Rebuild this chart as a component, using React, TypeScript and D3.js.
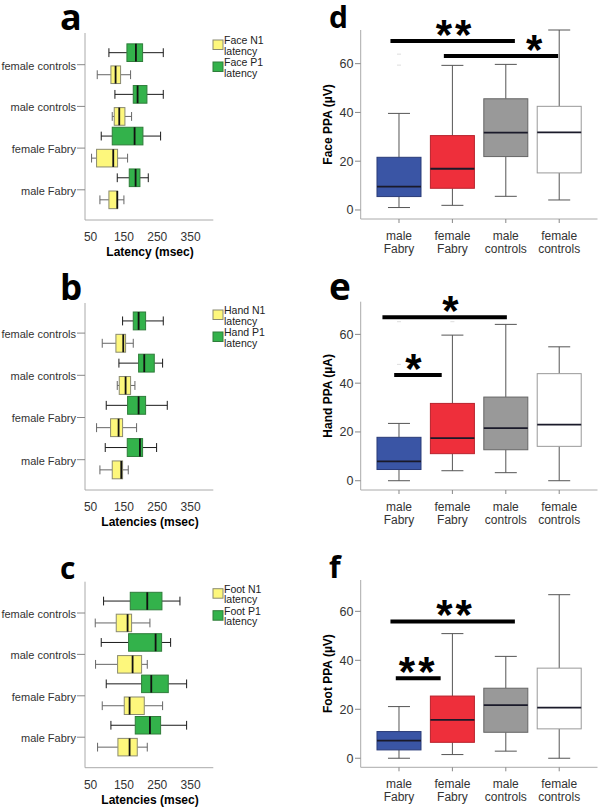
import React from 'react'
import * as d3 from 'd3'

// ---- data: latency panels (a-c), box stats [min, q1, median, q3, max] in msec
const latencyGroups = ['female controls', 'male controls', 'female Fabry', 'male Fabry']
const latencyTicks = [50, 150, 250, 350]

const faceP1 = [[105, 159, 186, 206, 268], [123, 178, 191, 219, 268], [82, 115, 182, 207, 260], [130, 166, 185, 198, 223]]
const faceN1 = [[70, 111, 125, 140, 170], [115, 121, 136, 153, 173], [53, 68, 118, 131, 161], [78, 105, 130, 131, 150]]
const handP1 = [[146, 178, 194, 215, 268], [135, 194, 211, 241, 266], [97, 161, 194, 215, 280], [94, 160, 198, 206, 248]]
const handN1 = [[85, 126, 148, 155, 178], [130, 136, 155, 170, 183], [68, 110, 134, 146, 188], [78, 115, 142, 146, 163]]
const footP1 = [[89, 169, 220, 264, 318], [82, 164, 245, 263, 290], [97, 203, 232, 283, 338], [111, 184, 228, 260, 338]]
const footN1 = [[64, 127, 161, 173, 228], [65, 131, 176, 203, 220], [85, 151, 167, 211, 266], [71, 132, 167, 190, 220]]

// ---- data: PPA panels (d-f), box stats [min, q1, median, q3, max]
const ppaGroups = [['male', 'Fabry'], ['female', 'Fabry'], ['male', 'controls'], ['female', 'controls']]
const ppaTicks = [0, 20, 40, 60]
const facePPA = [[1.0, 5.5, 9.6, 21.6, 39.6], [1.9, 8.9, 16.9, 30.5, 59.3], [5.6, 21.9, 31.7, 45.6, 59.7], [4.1, 15.2, 31.8, 42.5, 73.8]]
const handPPA = [[0, 4.6, 7.9, 17.8, 23.5], [4.1, 11.1, 17.5, 31.7, 59.7], [3.3, 12.7, 21.6, 34.3, 64.1], [0, 14.1, 23, 43.9, 54.9]]
const footPPA = [[0, 3.4, 7.2, 10.9, 21.1], [1.5, 6.5, 15.7, 25.4, 50.9], [2.9, 10.6, 21.7, 28.6, 41.6], [0, 12, 20.7, 36.8, 66.8]]
// outliers: [group index, value]
const faceOutliers = [[0, 63.9], [0, 59.4]]
const handOutliers = [[0, 65.2], [0, 47.7], [1, 65.2]]
const footOutliers: number[][] = []
// significance bars: group positions (fractional index), value, stars
const faceSig = [{ from: -0.16, to: 2.17, y: 69.3, at: 1.05, label: '**' }, { from: 0.84, to: 2.98, y: 63.1, at: 2.56, label: '*' }]
const handSig = [{ from: -0.31, to: 2.02, y: 67, at: 0.99, label: '*' }, { from: -0.09, to: 0.8, y: 43.3, at: 0.3, label: '*' }]
const footSig = [{ from: -0.16, to: 2.17, y: 55.9, at: 1.06, label: '**' }, { from: -0.06, to: 0.78, y: 32.7, at: 0.36, label: '**' }]

const ppaColors = ['#3a55a5', '#ee2f3b', '#999999', '#ffffff']
const ppaStrokes = ['#2a3b78', '#b8222c', '#666666', '#999999']

const FONT = '"Liberation Sans", Arial, sans-serif'
const LETTER_FONT = '"Open Sans", "Liberation Sans", sans-serif'

function LatencyPanel({ top, bottom, band0, step, letter, letterSize, title, legend, p1, n1 }: any) {
  const x = d3.scaleLinear().domain([33.3, 418]).range([85, 213.3])
  const y = d3.scaleBand().domain(latencyGroups).range([band0, band0 + step * 4])
  const inner = d3.scaleBand().domain(['P1', 'N1']).range([-1, step - 3]).paddingInner(0.2)
  const series = [
    { key: 'P1', stats: p1, fill: '#33b24b', stroke: '#2f7d3a', whisker: '#1a1a1a' },
    { key: 'N1', stats: n1, fill: '#fdf77c', stroke: '#8a8a70', whisker: '#666666' },
  ]
  return (
    <g>
      <text x={60} y={top - 3} fontFamily={LETTER_FONT} fontWeight={700} fontSize={letterSize}>{letter}</text>
      <line x1={85} x2={85} y1={top} y2={bottom} stroke="#aaa" />
      <line x1={85} x2={213.3} y1={bottom} y2={bottom} stroke="#aaa" />
      {latencyGroups.map(g => {
        const cy = y(g)! + y.bandwidth() / 2
        return (
          <g key={g}>
            <line x1={77} x2={85} y1={cy - 1} y2={cy - 1} stroke="#888" />
            <text x={76} y={cy} dy="0.35em" textAnchor="end" fontFamily={FONT} fontSize={11} fill="#333">{g}</text>
          </g>
        )
      })}
      {latencyTicks.map(t => (
        <text key={t} x={x(t)} y={bottom + 21} textAnchor="middle" fontFamily={FONT} fontSize={12} fill="#333">{t}</text>
      ))}
      <text x={150} y={bottom + 36} textAnchor="middle" fontFamily={FONT} fontWeight={700} fontSize={12}>{title}</text>
      {series.map(s => latencyGroups.map((g, i) => {
        const [mn, q1, md, q3, mx] = s.stats[i]
        const y0 = y(g)! + inner(s.key)!
        const h = inner.bandwidth()
        const cy = y0 + h / 2
        return (
          <g key={s.key + g}>
            <line x1={x(mn)} x2={x(q1)} y1={cy} y2={cy} stroke={s.whisker} />
            <line x1={x(q3)} x2={x(mx)} y1={cy} y2={cy} stroke={s.whisker} />
            <line x1={x(mn)} x2={x(mn)} y1={cy - h * 0.25} y2={cy + h * 0.25} stroke={s.whisker} />
            <line x1={x(mx)} x2={x(mx)} y1={cy - h * 0.25} y2={cy + h * 0.25} stroke={s.whisker} />
            <rect x={x(q1)} y={y0} width={x(q3) - x(q1)} height={h} fill={s.fill} stroke={s.stroke} />
            <line x1={x(md)} x2={x(md)} y1={y0} y2={y0 + h} stroke="#111" strokeWidth={1.8} />
          </g>
        )
      }))}
      {legend.map((l: string, i: number) => (
        <g key={l} transform={`translate(213,${top + 7 + i * 22})`}>
          <rect x={0} y={0} width={10} height={9.5} fill={i === 0 ? '#fdf77c' : '#33b24b'} stroke={i === 0 ? '#8a8a70' : '#2f7d3a'} />
          <text x={11} y={4} fontFamily={FONT} fontSize={10.5} fill="#222">{l}</text>
          <text x={11} y={14.5} fontFamily={FONT} fontSize={10.5} fill="#222">latency</text>
        </g>
      ))}
    </g>
  )
}

function PPAPanel({ top, bottom, domain, letter, letterSize, label, stats, outliers, sig }: any) {
  const y = d3.scaleLinear().domain(domain).range([bottom, top])
  const x = d3.scaleBand().domain(ppaGroups.map(g => g.join(' '))).range([360.7, 597.5]).paddingInner(0.176).paddingOuter(0.305)
  const bw = x.bandwidth()
  const cx = (i: number) => x(ppaGroups[i].join(' '))! + bw / 2
  const pos = d3.scaleLinear().domain([0, 1]).range([cx(0), cx(1)])
  return (
    <g>
      <text x={329} y={top - 2} fontFamily={LETTER_FONT} fontWeight={700} fontSize={letterSize}>{letter}</text>
      <line x1={360.7} x2={360.7} y1={top} y2={bottom} stroke="#aaa" />
      <line x1={360.7} x2={597.5} y1={bottom} y2={bottom} stroke="#aaa" />
      {ppaTicks.map(t => (
        <g key={t}>
          <line x1={355} x2={360.7} y1={y(t)} y2={y(t)} stroke="#888" />
          <text x={353.5} y={y(t)} dy="0.35em" textAnchor="end" fontFamily={FONT} fontSize={12.5} fill="#333">{t}</text>
        </g>
      ))}
      <text transform={`translate(332,${(top + bottom) / 2}) rotate(-90)`} textAnchor="middle" fontFamily={FONT} fontWeight={700} fontSize={12}>{label}</text>
      {ppaGroups.map((g, i) => (
        <g key={g.join(' ')}>
          <line x1={cx(i)} x2={cx(i)} y1={bottom} y2={bottom + 4} stroke="#888" />
          <text x={cx(i)} y={bottom + 21} textAnchor="middle" fontFamily={FONT} fontSize={12} fill="#333">{g[0]}</text>
          <text x={cx(i)} y={bottom + 34} textAnchor="middle" fontFamily={FONT} fontSize={12} fill="#333">{g[1]}</text>
        </g>
      ))}
      {stats.map((s: number[], i: number) => {
        const [mn, q1, md, q3, mx] = s
        const c = cx(i)
        return (
          <g key={i}>
            <line x1={c} x2={c} y1={y(mn)} y2={y(q1)} stroke="#555" />
            <line x1={c} x2={c} y1={y(q3)} y2={y(mx)} stroke="#555" />
            <line x1={c - bw / 4} x2={c + bw / 4} y1={y(mn)} y2={y(mn)} stroke="#555" />
            <line x1={c - bw / 4} x2={c + bw / 4} y1={y(mx)} y2={y(mx)} stroke="#555" />
            <rect x={c - bw / 2} y={y(q3)} width={bw} height={y(q1) - y(q3)} fill={ppaColors[i]} stroke={ppaStrokes[i]} />
            <line x1={c - bw / 2} x2={c + bw / 2} y1={y(md)} y2={y(md)} stroke="#1a1a2a" strokeWidth={1.8} />
          </g>
        )
      })}
      {outliers.map((o: number[], k: number) => (
        <line key={k} x1={cx(o[0]) - 2} x2={cx(o[0]) + 2} y1={y(o[1])} y2={y(o[1])} stroke="#ddd" />
      ))}
      {sig.map((s: any, k: number) => (
        <g key={k}>
          <line x1={pos(s.from)} x2={pos(s.to)} y1={y(s.y)} y2={y(s.y)} stroke="#000" strokeWidth={4} />
          <text x={pos(s.at)} y={y(s.y) + 8} textAnchor="middle" fontFamily={FONT} fontWeight={700} fontSize={42} letterSpacing={3}>{s.label}</text>
        </g>
      ))}
    </g>
  )
}

export default function App() {
  return (
    <svg width={600} height={807} style={{ position: 'absolute', left: 0, top: 0, background: '#fff' }}>
      <LatencyPanel top={33} bottom={220} band0={44.85} step={41.7} letter="a" letterSize={36} title="Latency (msec)" legend={['Face N1', 'Face P1']} p1={faceP1} n1={faceN1} />
      <LatencyPanel top={303} bottom={490} band0={313} step={42.2} letter="b" letterSize={35} title="Latencies (msec)" legend={['Hand N1', 'Hand P1']} p1={handP1} n1={handN1} />
      <LatencyPanel top={581.7} bottom={767.7} band0={593.3} step={41.4} letter="c" letterSize={30} title="Latencies (msec)" legend={['Foot N1', 'Foot P1']} p1={footP1} n1={footN1} />
      <PPAPanel top={30} bottom={219} domain={[-3.7, 73.8]} letter="d" letterSize={30} label="Face PPA (µV)" stats={facePPA} outliers={faceOutliers} sig={faceSig} />
      <PPAPanel top={301.7} bottom={490} domain={[-3.8, 73.4]} letter="e" letterSize={37} label="Hand PPA (µA)" stats={handPPA} outliers={handOutliers} sig={handSig} />
      <PPAPanel top={580} bottom={767.3} domain={[-3.7, 72.8]} letter="f" letterSize={30} label="Foot PPA (µV)" stats={footPPA} outliers={footOutliers} sig={footSig} />
    </svg>
  )
}
